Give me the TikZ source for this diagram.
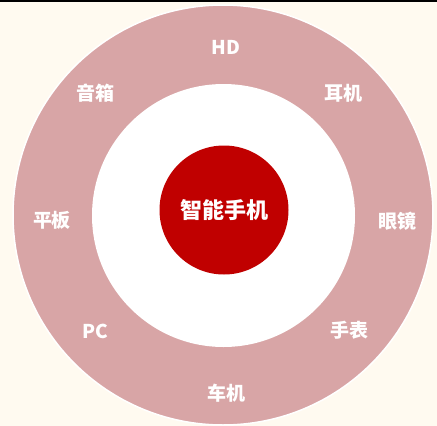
\documentclass[tikz,border=0pt]{standalone}
\usepackage{fontspec}
\newfontfamily\cjk{Noto Sans CJK SC}
\definecolor{bgcream}{HTML}{FFFAF0}
\definecolor{ringpink}{HTML}{D8A5A6}
\definecolor{corered}{HTML}{C00000}
\tikzset{
  lbl/.style={text=white, font=\cjk\bfseries\fontsize{19}{19}\selectfont, inner sep=0pt, anchor=center},
  corelbl/.style={text=white, font=\cjk\bfseries\fontsize{22}{22}\selectfont, inner sep=0pt, anchor=center}
}
\begin{document}
\begin{tikzpicture}[x=1pt,y=-1pt]
\useasboundingbox (0,0) rectangle (437,426);
\fill[bgcream] (0,0) rectangle (437,426);
\begin{scope}
\clip (0,0) rectangle (437,426);
\fill[ringpink, draw=white, line width=1.5pt] (223,215) circle (210);
\end{scope}
\fill[black] (0,0) rectangle (437,2);
\fill[white] (223.5,215.5) circle (131.5);
\node[circle, fill=corered, minimum size=129pt, inner sep=0pt] (core) at (224,210) {};
\node[corelbl] (coretxt) at (core.center) {智能手机};
\node[lbl] (hd) at (226,47) {HD};
\node[lbl] (ear) at (343,93) {耳机};
\node[lbl] (glass) at (397,221) {眼镜};
\node[lbl] (watch) at (349,330) {手表};
\node[lbl] (car) at (226,393) {车机};
\node[lbl] (pc) at (95,331) {PC};
\node[lbl] (pad) at (52,220) {平板};
\node[lbl] (spk) at (95,93) {音箱};
\end{tikzpicture}
\end{document}
